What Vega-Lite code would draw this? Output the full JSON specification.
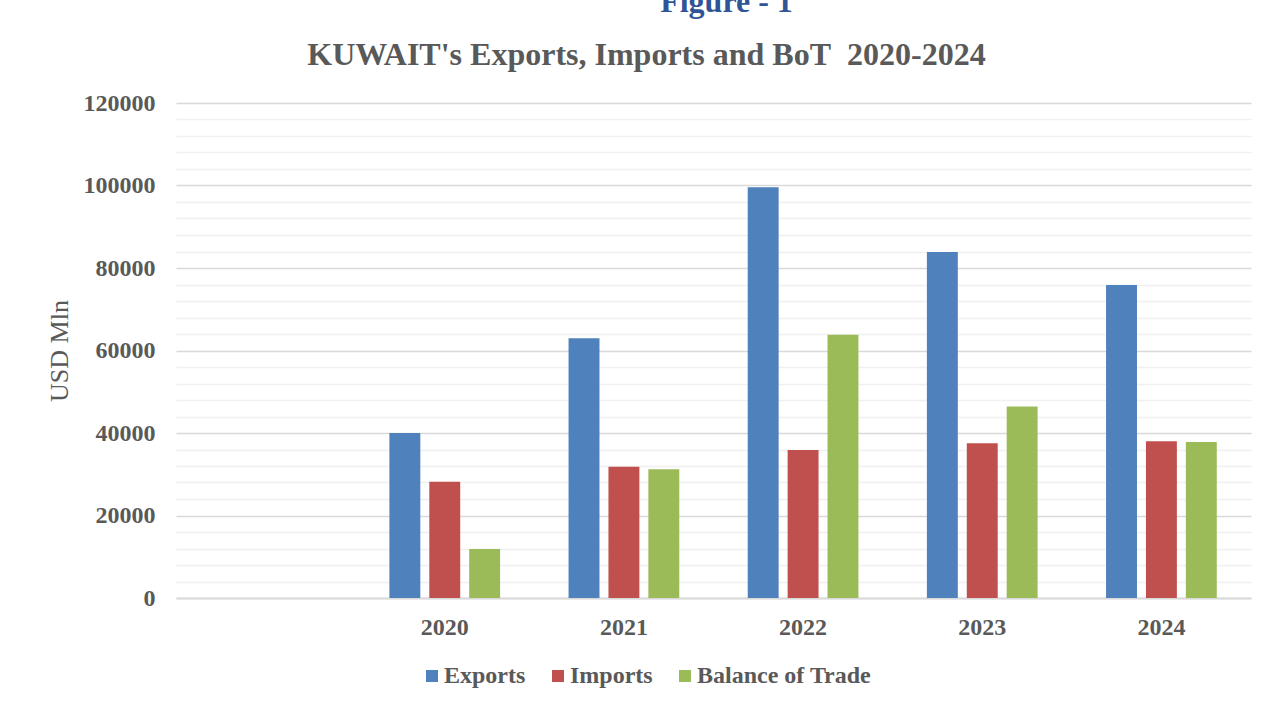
{
  "$schema": "https://vega.github.io/schema/vega-lite/v6.json",
  "width": 1075,
  "height": 495,
  "padding": {"left": 46, "top": -14, "right": 18, "bottom": 0},
  "background": "white",
  "title": {
    "text": "Figure - 1",
    "anchor": "middle",
    "dx": 13,
    "font": "Liberation Serif",
    "fontSize": 32,
    "fontWeight": "bold",
    "color": "#2F5597",
    "offset": 19
  },
  "data": {
    "values": [
      {"year": "2020", "series": "Exports", "value": 40000},
      {"year": "2020", "series": "Imports", "value": 28200},
      {"year": "2020", "series": "Balance of Trade", "value": 11900},
      {"year": "2021", "series": "Exports", "value": 63000},
      {"year": "2021", "series": "Imports", "value": 31800},
      {"year": "2021", "series": "Balance of Trade", "value": 31200},
      {"year": "2022", "series": "Exports", "value": 99600},
      {"year": "2022", "series": "Imports", "value": 35900},
      {"year": "2022", "series": "Balance of Trade", "value": 63800},
      {"year": "2023", "series": "Exports", "value": 83900},
      {"year": "2023", "series": "Imports", "value": 37500},
      {"year": "2023", "series": "Balance of Trade", "value": 46400},
      {"year": "2024", "series": "Exports", "value": 75900},
      {"year": "2024", "series": "Imports", "value": 38000},
      {"year": "2024", "series": "Balance of Trade", "value": 37800}
    ]
  },
  "layer": [
    {
      "mark": {"type": "bar"},
      "encoding": {
        "x": {
          "field": "year",
          "type": "nominal",
          "scale": {"domain": [" ", "2020", "2021", "2022", "2023", "2024"], "paddingInner": 0.382, "paddingOuter": 0.191},
          "axis": {
            "orient": "bottom",
            "title": null,
            "labelAngle": 0,
            "labelFont": "Liberation Serif",
            "labelFontSize": 24,
            "labelFontWeight": "bold",
            "labelColor": "#595959",
            "labelPadding": 17,
            "ticks": false,
            "domain": true,
            "domainColor": "#d9d9d9",
            "domainWidth": 2
          }
        },
        "xOffset": {
          "field": "series",
          "type": "nominal",
          "scale": {"domain": ["Exports", "Imports", "Balance of Trade"], "paddingInner": 0.225, "paddingOuter": 0}
        },
        "y": {
          "field": "value",
          "type": "quantitative",
          "scale": {"domain": [0, 120000], "nice": false},
          "axis": {
            "title": "USD Mln",
            "titleFont": "Liberation Serif",
            "titleFontSize": 26,
            "titleFontWeight": "normal",
            "titleColor": "#595959",
            "titlePadding": 11,
            "values": [0, 4000, 8000, 12000, 16000, 20000, 24000, 28000, 32000, 36000, 40000, 44000, 48000, 52000, 56000, 60000, 64000, 68000, 72000, 76000, 80000, 84000, 88000, 92000, 96000, 100000, 104000, 108000, 112000, 116000, 120000],
            "format": "d",
            "labelExpr": "datum.value % 20000 === 0 ? datum.label : ''",
            "labelFont": "Liberation Serif",
            "labelFontSize": 24,
            "labelFontWeight": "bold",
            "labelColor": "#595959",
            "labelPadding": 21,
            "ticks": false,
            "domain": false,
            "grid": true,
            "gridColor": {"condition": {"test": "datum.value % 20000 === 0", "value": "#d9d9d9"}, "value": "#f0f0f0"},
            "gridWidth": 1.5
          }
        },
        "color": {
          "field": "series",
          "type": "nominal",
          "scale": {"domain": ["Exports", "Imports", "Balance of Trade"], "range": ["#4F81BD", "#C0504D", "#9BBB59"]},
          "legend": {
            "title": null,
            "orient": "none",
            "direction": "horizontal",
            "legendX": 244,
            "legendY": 561,
            "symbolType": "square",
            "symbolSize": 144,
            "symbolStrokeWidth": 0,
            "labelFont": "Liberation Serif",
            "labelFontSize": 24,
            "labelFontWeight": "bold",
            "labelColor": "#595959",
            "labelOffset": 0,
            "labelLimit": 0,
            "columnPadding": 20
          }
        }
      }
    },
    {
      "mark": {"type": "bar", "opacity": 0},
      "encoding": {
        "x": {
          "field": "year",
          "type": "nominal",
          "axis": {
            "orient": "top",
            "title": "KUWAIT's Exports, Imports and BoT\u00a0 2020-2024",
            "titleFont": "Liberation Serif",
            "titleFontSize": 32,
            "titleFontWeight": "bold",
            "titleColor": "#595959",
            "titleX": 470,
            "titleY": -39,
            "titleAlign": "center",
            "titleBaseline": "alphabetic",
            "labels": false,
            "ticks": false,
            "domain": false,
            "grid": false
          }
        }
      }
    }
  ],
  "resolve": {"axis": {"x": "independent"}},
  "config": {
    "view": {"stroke": null}
  }
}
